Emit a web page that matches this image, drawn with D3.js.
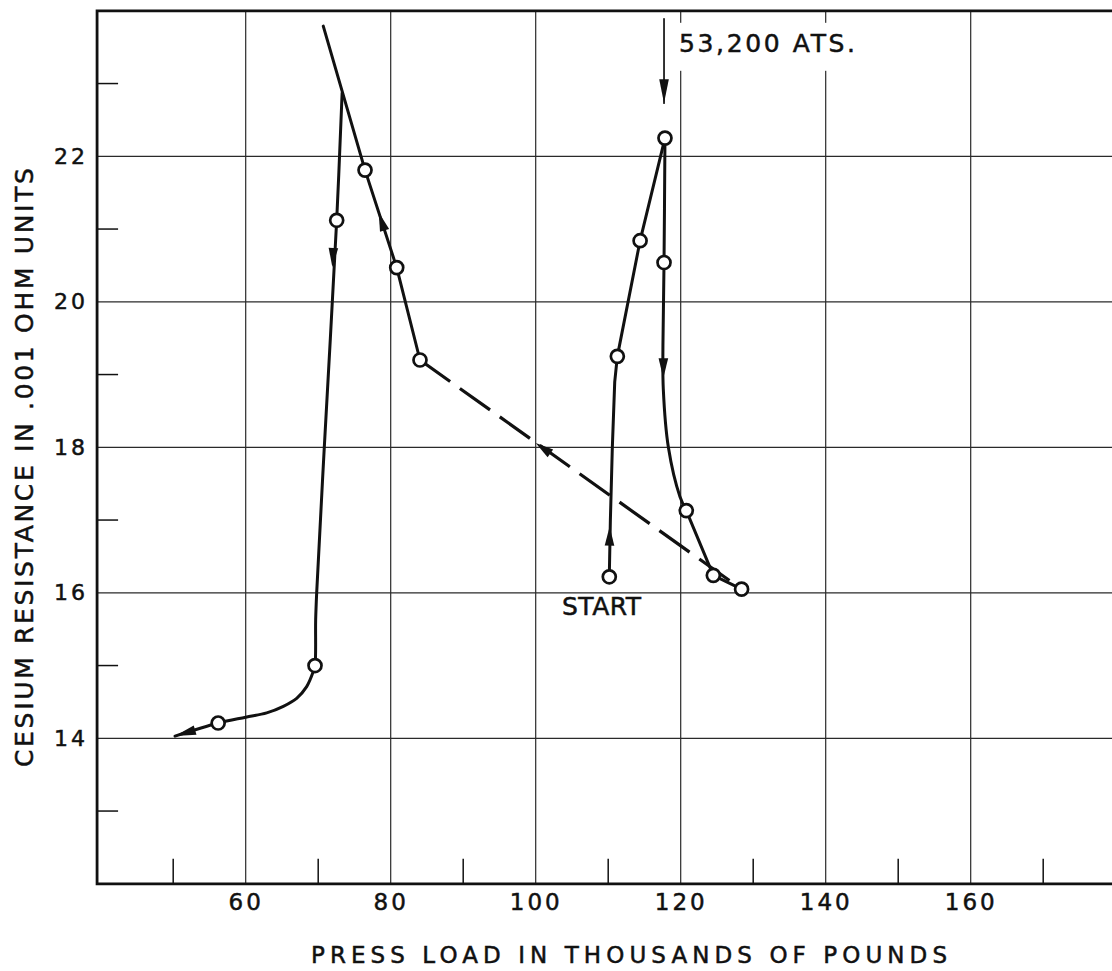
<!DOCTYPE html>
<html>
<head>
<meta charset="utf-8">
<script src="https://cdn.jsdelivr.net/npm/d3@7/dist/d3.min.js"></script>
<style>
  body { margin: 0; background: #fff; }
  text { font-family: "DejaVu Sans", sans-serif; fill: #111; stroke: #111; stroke-width: 0.5px; }
</style>
</head>
<body>
<svg id="chart" width="1112" height="971"></svg>
<script>
const width = 1112;
const height = 971;

// ticks
const xMajor = [60, 80, 100, 120, 140, 160];
const xMinor = [50, 70, 90, 110, 130, 150, 170];
const yMajor = [14, 16, 18, 20, 22];
const yMinor = [13, 15, 17, 19, 21, 23];

// circled readings: [press load (1000 lb), resistance (.001 ohm)]
const readings = [
  [56.2, 14.21], [69.56, 15.0], [72.55, 21.12], [76.46, 21.81], [80.83, 20.47],
  [84.04, 19.2], [110.15, 16.22], [111.26, 19.25], [114.4, 20.84], [117.83, 22.25],
  [117.7, 20.54], [120.77, 17.13], [124.5, 16.24], [128.4, 16.05]
];

// curve pieces, in the order the run went
const loadingUp = [
  [110.15, 16.22], [110.3, 17.0], [110.57, 18.0], [110.9, 18.9], [111.26, 19.25],
  [114.4, 20.84], [117.83, 22.25]
];
const unloadingDown = [
  [117.83, 22.25], [117.7, 20.54], [117.55, 19.4], [117.6, 18.8], [118.3, 18.0],
  [119.9, 17.32], [120.77, 17.13]
];
const unloadingTail = [[120.77, 17.13], [124.5, 16.24], [128.4, 16.05]];
const dashedBack = [[84.04, 19.2], [128.4, 16.05]];
const secondUp = [[84.04, 19.2], [80.83, 20.47], [76.46, 21.81], [70.7, 23.79]];
const secondDown = [
  [73.3, 22.87], [72.55, 21.12], [70.84, 18.0], [69.79, 16.0], [69.65, 15.63],
  [69.56, 15.0], [69.33, 14.92], [68.41, 14.71], [67.03, 14.55], [65.19, 14.44],
  [62.9, 14.35], [60.0, 14.29], [56.22, 14.21], [50.25, 14.03]
];
const pointer = [[117.7, 23.89], [117.7, 22.73]];

// arrowheads: [fromX, fromY, tipX, tipY, length px]
const arrows = [
  [117.7, 23.89, 117.7, 22.73, 24],
  [117.65, 20.5, 117.6, 18.95, 20],
  [73.3, 22.87, 71.95, 20.48, 19],
  [80.83, 20.47, 78.34, 21.23, 19],
  [128.4, 16.05, 100.0, 18.06, 18],
  [110.15, 16.22, 110.2, 16.91, 19],
  [56.22, 14.21, 50.25, 14.03, 21]
];

const xTitle = "PRESS LOAD IN THOUSANDS OF POUNDS";
const yTitle = "CESIUM RESISTANCE IN .001 OHM UNITS";

const x = d3.scaleLinear().domain([60, 160]).range([245.7, 970.7]);
const y = d3.scaleLinear().domain([14, 22]).range([738.3, 156.3]);

const xLeft = x(39.5), yTop = y(24), yBottom = y(12);

const svg = d3.select("#chart");
const ink = "#111";

// grid
const grid = svg.append("g").attr("stroke", "#2a2a2a").attr("stroke-width", 1.2);
grid.selectAll(".vx").data(xMajor).join("line")
  .attr("x1", d => x(d)).attr("x2", d => x(d))
  .attr("y1", yTop).attr("y2", yBottom);
grid.selectAll(".hy").data(yMajor).join("line")
  .attr("x1", xLeft).attr("x2", width)
  .attr("y1", d => y(d)).attr("y2", d => y(d));

// minor ticks
svg.append("g").attr("stroke", ink).attr("stroke-width", 1.5)
  .selectAll("line").data(xMinor).join("line")
  .attr("x1", d => x(d)).attr("x2", d => x(d))
  .attr("y1", yBottom).attr("y2", yBottom - 25);
svg.append("g").attr("stroke", ink).attr("stroke-width", 1.5)
  .selectAll("line").data(yMinor).join("line")
  .attr("x1", xLeft).attr("x2", xLeft + 21)
  .attr("y1", d => y(d)).attr("y2", d => y(d));

// frame (left, top, bottom)
svg.append("path")
  .attr("d", `M${width},${yTop}H${xLeft}V${yBottom}H${width}`)
  .attr("fill", "none").attr("stroke", ink).attr("stroke-width", 2.8);

// tick labels
const xAxis = svg.append("g").attr("transform", `translate(0,${yBottom})`)
  .call(d3.axisBottom(x).tickValues(xMajor).tickSize(0).tickPadding(10));
xAxis.select(".domain").remove();
xAxis.selectAll("text").attr("font-size", 23).attr("letter-spacing", 3)
  .attr("font-family", "DejaVu Sans").attr("fill", ink);

const yAxis = svg.append("g").attr("transform", `translate(${xLeft},0)`)
  .call(d3.axisLeft(y).tickValues(yMajor).tickSize(0).tickPadding(9));
yAxis.select(".domain").remove();
yAxis.selectAll("text").attr("font-size", 22).attr("letter-spacing", 3)
  .attr("font-family", "DejaVu Sans").attr("fill", ink);

// axis titles
svg.append("text")
  .attr("x", 311).attr("y", 963)
  .attr("font-size", 23)
  .attr("textLength", 636).attr("lengthAdjust", "spacing")
  .text(xTitle);
svg.append("text")
  .attr("transform", "translate(33,767) rotate(-90)")
  .attr("font-size", 25)
  .attr("textLength", 599).attr("lengthAdjust", "spacing")
  .text(yTitle);

// annotation "53,200 ATS." sits on a white patch breaking the grid
svg.append("rect")
  .attr("x", x(117.7) + 8).attr("y", yTop + 12)
  .attr("width", 192).attr("height", 48).attr("fill", "#fff");
svg.append("text")
  .attr("x", x(117.7) + 15).attr("y", 52)
  .attr("font-size", 25)
  .attr("textLength", 176).attr("lengthAdjust", "spacing")
  .text("53,200 ATS.");

svg.append("text")
  .attr("x", 562).attr("y", 615)
  .attr("font-size", 25)
  .attr("textLength", 79).attr("lengthAdjust", "spacing")
  .text("START");

// curves
const lineLin = d3.line().x(d => x(d[0])).y(d => y(d[1]));
const lineSmooth = d3.line().x(d => x(d[0])).y(d => y(d[1])).curve(d3.curveCatmullRom.alpha(0.5));

const curves = svg.append("g").attr("fill", "none").attr("stroke", ink)
  .attr("stroke-width", 3).attr("stroke-linejoin", "round").attr("stroke-linecap", "round");
curves.append("path").attr("d", lineLin(pointer)).attr("stroke-width", 1.7);
curves.append("path").attr("d", lineLin(loadingUp));
curves.append("path").attr("d", lineSmooth(unloadingDown));
curves.append("path").attr("d", lineLin(unloadingTail));
curves.append("path").attr("d", lineLin(dashedBack))
  .attr("stroke-dasharray", "37,12").attr("stroke-linecap", "butt").attr("stroke-width", 3.2);
curves.append("path").attr("d", lineLin(secondUp));
curves.append("path").attr("d", lineSmooth(secondDown));

// arrowheads
const headHalf = 4.8;
svg.append("g").attr("fill", ink)
  .selectAll("path").data(arrows).join("path")
  .attr("d", d => {
    const fx = x(d[0]), fy = y(d[1]), tx = x(d[2]), ty = y(d[3]);
    const a = Math.atan2(ty - fy, tx - fx);
    const c = Math.cos(a), s = Math.sin(a);
    const bx = tx - d[4] * c, by = ty - d[4] * s;
    return `M${tx},${ty}L${bx - headHalf * s},${by + headHalf * c}L${bx + headHalf * s},${by - headHalf * c}Z`;
  });

// circled readings
svg.append("g").attr("fill", "#fff").attr("stroke", ink).attr("stroke-width", 2.7)
  .selectAll("circle").data(readings).join("circle")
  .attr("cx", d => x(d[0])).attr("cy", d => y(d[1])).attr("r", 6.5);
</script>
</body>
</html>
